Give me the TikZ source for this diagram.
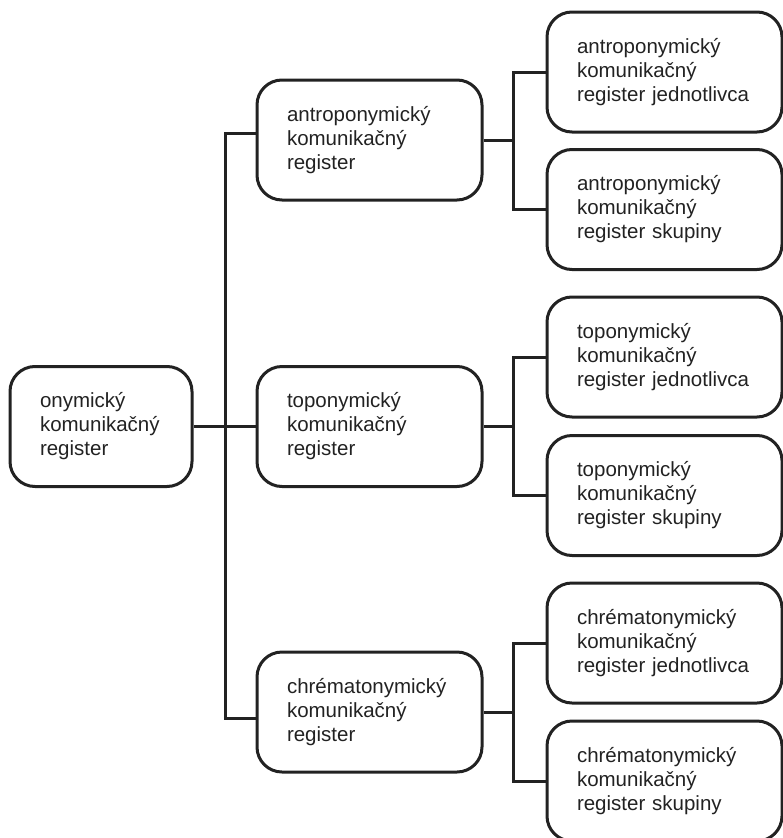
\documentclass[tikz,border=0pt]{standalone}
\usepackage{fontspec}
\setmainfont{Liberation Sans}
\definecolor{ink}{HTML}{222222}

\begin{document}
\begin{tikzpicture}[
                x=1pt,y=-1pt,
                line width=3pt,
                draw=ink, text=ink,
                regbox/.style={draw=ink,rounded corners=25pt,align=left,minimum height=120pt,
                               inner xsep=30pt,font=\fontsize{20.5}{24}\selectfont},
                rootbox/.style={regbox,text width=122pt},
                midbox/.style={regbox,text width=165pt},
                leafbox/.style={regbox,text width=175pt}] %

\useasboundingbox (0,0) rectangle (782,838);

                    % root
                    \node[rootbox] (ONYM) at (101,426.5) {onymický\\komunikačný\\register};

                    % 1
                    \node[midbox] (ANTRO) at (369.5,140) {antroponymický\\komunikačný\\register};
                    \node[leafbox] (ANTROJ) at (664.5,72) {antroponymický\\komunikačný\\register jednotlivca};
                    \node[leafbox] (ANTROS) at (664.5,209.5) {antroponymický\\komunikačný\\register skupiny};

                    % 2
                    \node[midbox] (TOPO) at (369.5,426.5) {toponymický\\komunikačný\\register};
                    \node[leafbox] (TOPOJ) at (664.5,357) {toponymický\\komunikačný\\register jednotlivca};
                    \node[leafbox] (TOPOS) at (664.5,495.5) {toponymický\\komunikačný\\register skupiny};

                    % 3
                    \node[midbox] (CHREM) at (369.5,712) {chrématonymický\\komunikačný\\register};
                    \node[leafbox] (CHREMJ) at (664.5,643) {chrématonymický\\komunikačný\\register jednotlivca};
                    \node[leafbox] (CHREMS) at (664.5,781) {chrématonymický\\komunikačný\\register skupiny};

%%%%%%%%%%%%%%%%%%%%%%%%%%%%%%%%%%%%%%%%%%%%%%%%%%%%%%%%%%%%%%%%%%%%%%%%%%%%%%%%%%%%

% joints
\coordinate (J0) at (225,426.5);
\coordinate (J1) at (513,140);
\coordinate (J2) at (513,426.5);
\coordinate (J3) at (513,712);

% root to middle
\draw (ONYM.east) -- (TOPO.west);
\draw ([yshift=7pt]ANTRO.west) -| (J0) |- ([yshift=-6pt]CHREM.west);

% middle to leaves
\draw (ANTRO.east) -- (J1);
\draw (ANTROJ.west) -| (J1) |- (ANTROS.west);
\draw (TOPO.east) -- (J2);
\draw (TOPOJ.west) -| (J2) |- (TOPOS.west);
\draw (CHREM.east) -- (J3);
\draw (CHREMJ.west) -| (J3) |- (CHREMS.west);

\end{tikzpicture}
\end{document}
